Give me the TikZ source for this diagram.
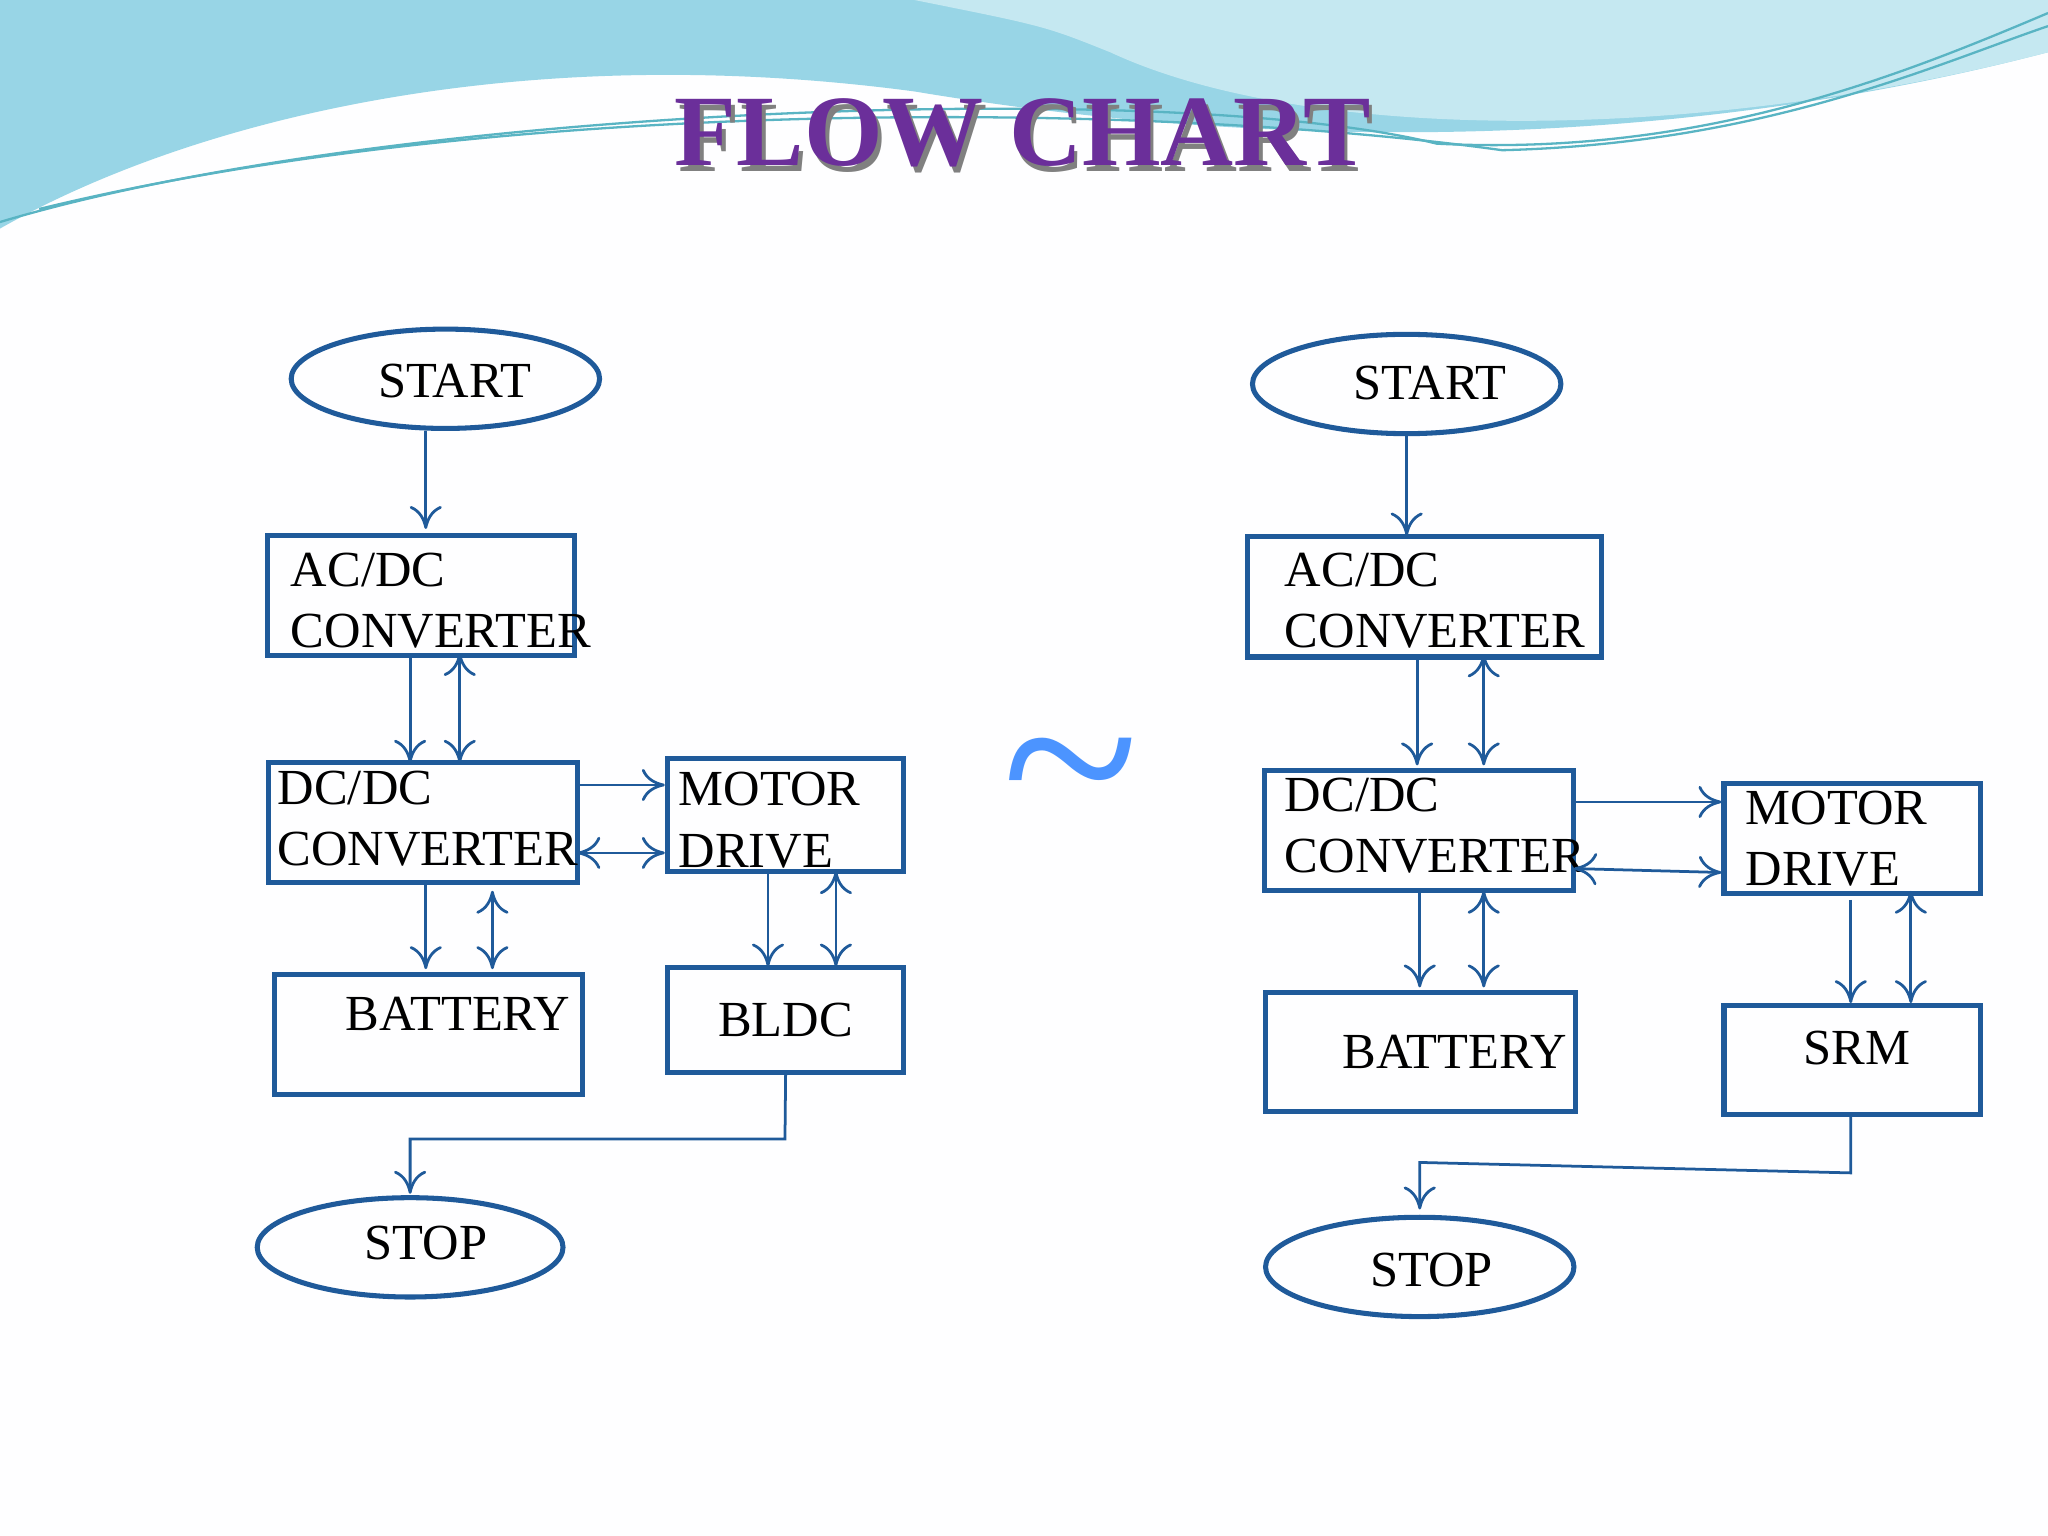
\documentclass[tikz,border=0pt]{standalone}
\usepackage{fontspec}
\setmainfont{Liberation Serif}
\usetikzlibrary{shapes.geometric,arrows.meta}
\definecolor{ln}{HTML}{1F5A9A}
\definecolor{ttl}{HTML}{6B2F9A}
\definecolor{wave}{HTML}{7FCBE0}
\begin{document}
\begin{tikzpicture}[x=0.01cm,y=-0.01cm,
  box/.style={draw=ln,line width=1.1pt,rectangle,inner sep=0pt,font=\fontsize{11}{11}\selectfont},
  ell/.style={draw=ln,line width=1.1pt,ellipse,inner sep=0pt,minimum width=2.36cm,minimum height=0.76cm},
  ctxt/.style={font=\fontsize{11}{11}\selectfont,inner sep=0pt},
  txt/.style={font=\fontsize{11}{13}\selectfont,inner sep=0pt,anchor=base west},
  ar/.style={draw=ln,line width=0.6pt,-{To[length=5pt,width=7pt]}},
  dar/.style={draw=ln,line width=0.6pt,{To[length=5pt,width=7pt]}-{To[length=5pt,width=7pt]}}]
\useasboundingbox (0,0) rectangle (1568,1176);
\fill[white!94!blue!4] (0,0) rectangle (1568,1176);
% top wave
\fill[wave!80!white] (0,0) -- (1568,0) -- (1568,40) .. controls (1300,110) and (1000,120) .. (700,70) .. controls (400,30) and (150,90) .. (0,175) -- cycle;
\fill[wave!45!white] (700,0) -- (1568,0) -- (1568,40) .. controls (1300,110) and (1000,110) .. (850,40) .. controls (800,20) .. (700,0) -- cycle;
\draw[wave!70!teal,line width=0.5pt] (0,170) .. controls (300,80) and (900,60) .. (1100,110) .. controls (1300,120) and (1450,60) .. (1568,10);
\draw[wave!70!teal,line width=0.5pt] (30,160) .. controls (400,70) and (900,80) .. (1150,115) .. controls (1350,110) and (1480,50) .. (1568,20);
% title
\node[font=\fontsize{22}{22}\selectfont\bfseries,text=black!50] at (786,106) {FLOW CHART};
\node[font=\fontsize{22}{22}\selectfont\bfseries,text=ttl] (title) at (783,102) {FLOW CHART};
\node[text=blue!60!cyan!70!white,font=\fontsize{55}{55}\selectfont] (tilde) at (820,605) {\char`\~};
% left chart
\node[ell] (s1) at (341,290) {};
\node[ctxt] at (348,292) {START};
\node[box,minimum width=2.35cm,minimum height=0.92cm] (a1) at (322.5,456) {};
\node[txt] at (222,449) {AC/DC};
\node[txt] at (222,496) {CONVERTER};
\node[box,minimum width=2.36cm,minimum height=0.92cm] (d1) at (324,630) {};
\node[txt] at (212,616) {DC/DC};
\node[txt] at (212,663) {CONVERTER};
\node[box,minimum width=1.81cm,minimum height=0.86cm] (m1) at (601.5,624) {};
\node[txt] at (519,617) {MOTOR};
\node[txt] at (519,664) {DRIVE};
\node[box,minimum width=2.36cm,minimum height=0.92cm] (b1) at (328,792) {};
\node[txt] at (264,789) {BATTERY};
\node[box,minimum width=1.81cm,minimum height=0.80cm] (l1) at (601.5,781) {BLDC};
\node[ell,minimum width=2.34cm] (e1) at (314,955) {};
\node[ctxt] at (326,952) {STOP};
\draw[ar] (326,330) -- (326,405);
\draw[ar] (314,502) -- (314,584);
\draw[dar] (352,584) -- (352,500);
\draw[ar] (442,601) -- (509,601);
\draw[dar] (442,653) -- (509,653);
\draw[ar] (326,676) -- (326,742);
\draw[dar] (377,682) -- (377,742);
\draw[ar] (588,667) -- (588,740);
\draw[dar] (640,667) -- (640,740);
\draw[ar] (l1.south) -- (601,872) -- (314,872) -- (314,914);
% right chart
\node[ell] (s2) at (1077,294) {};
\node[ctxt] at (1095,293) {START};
\node[box,minimum width=2.71cm,minimum height=0.92cm] (a2) at (1090.5,457) {};
\node[txt] at (983,449) {AC/DC};
\node[txt] at (983,496) {CONVERTER};
\node[box,minimum width=2.37cm,minimum height=0.92cm] (d2) at (1086.5,636) {};
\node[txt] at (983,621) {DC/DC};
\node[txt] at (983,668) {CONVERTER};
\node[box,minimum width=1.96cm,minimum height=0.84cm] (m2) at (1418,642) {};
\node[txt] at (1336,631) {MOTOR};
\node[txt] at (1336,678) {DRIVE};
\node[box,minimum width=2.37cm,minimum height=0.91cm] (b2) at (1087.5,805.5) {};
\node[txt] at (1027,818) {BATTERY};
\node[box,minimum width=1.96cm,minimum height=0.83cm] (r2) at (1418,811.5) {};
\node[txt] at (1380,815) {SRM};
\node[ell] (e2) at (1087,970) {};
\node[ctxt] at (1096,972) {STOP};
\draw[ar] (1077,334) -- (1077,410);
\draw[ar] (1085,503) -- (1085,586);
\draw[dar] (1136,586) -- (1136,501);
\draw[ar] (1205,614) -- (1318,614);
\draw[dar] (1205,665) -- (1318,668);
\draw[ar] (1087,682) -- (1087,756);
\draw[dar] (1136,682) -- (1136,756);
\draw[ar] (1417,689) -- (1417,768);
\draw[dar] (1463,682) -- (1463,768);
\draw[ar] (1417,853) -- (1417,898) -- (1087,890) -- (1087,926);
\end{tikzpicture}
\end{document}
